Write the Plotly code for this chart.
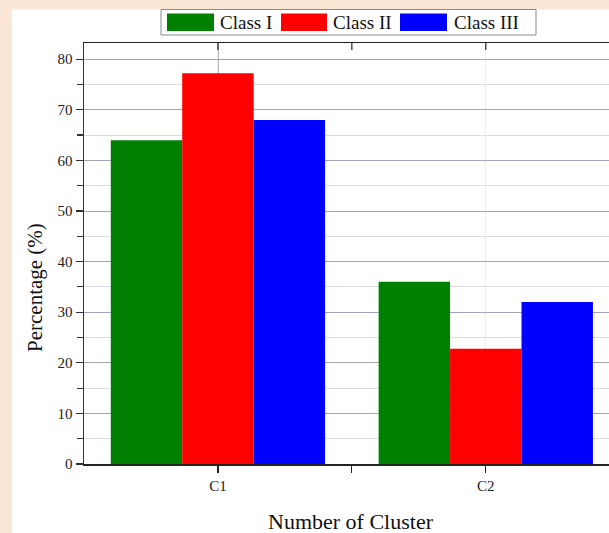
import plotly.graph_objects as go

# ---- data ----
categories = ["C1", "C2"]
series_names = ["Class I", "Class II", "Class III"]
class_i = [64.0, 36.0]
class_ii = [77.2, 22.8]
class_iii = [68.0, 32.0]
series_values = [class_i, class_ii, class_iii]
series_colors = ["#008000", "#ff0000", "#0000ff"]
y_ticks = [0, 10, 20, 30, 40, 50, 60, 70, 80]

# ---- layout geometry (pixels) ----
WIDTH, HEIGHT = 609, 533
L, T, B, R = 84, 43, 69, 0
PW = WIDTH - L - R
PH = HEIGHT - T - B
FONT = "Liberation Serif, Times New Roman, serif"
PEACH = "#fce6d6"


def px(x):
    return (x - L) / PW


def py(y):
    return (T + PH - y) / PH


xpos = list(range(len(categories)))
mid_ticks = [i + 0.5 for i in xpos[:-1]]

fig = go.Figure()
for name, vals, col in zip(series_names, series_values, series_colors):
    fig.add_trace(go.Bar(x=xpos, y=vals, name=name, marker=dict(color=col, line=dict(width=0)),
                         showlegend=False))

shapes = []
# peach border strips
shapes.append(dict(type="rect", xref="paper", yref="paper", x0=px(0), x1=px(12), y0=py(HEIGHT), y1=py(0),
                   fillcolor=PEACH, line=dict(width=0), layer="above"))
shapes.append(dict(type="rect", xref="paper", yref="paper", x0=px(0), x1=px(WIDTH), y0=py(9.5), y1=py(0),
                   fillcolor=PEACH, line=dict(width=0), layer="above"))
# darker vertical grid line at first category
shapes.append(dict(type="line", xref="x", yref="paper", x0=xpos[0], x1=xpos[0], y0=0, y1=1,
                   line=dict(color="#505070", width=1), layer="below"))
# inward-pointing tick marks on the top frame line
for tv in xpos + mid_ticks:
    shapes.append(dict(type="line", xref="x", yref="paper", x0=tv, x1=tv, y0=1, y1=1 - 7 / PH,
                       line=dict(color="#222", width=1.2), layer="above"))

# manual legend
shapes.append(dict(type="rect", xref="paper", yref="paper", x0=px(161), x1=px(536), y0=py(35), y1=py(9.5),
                   fillcolor="white", line=dict(color="#8a8a8a", width=1), layer="above"))
swatch_x = [(167, 214), (281, 327), (400, 447)]
text_x = [218, 331, 452]
annotations = []
for (sx0, sx1), tx, name, col in zip(swatch_x, text_x, series_names, series_colors):
    shapes.append(dict(type="rect", xref="paper", yref="paper", x0=px(sx0), x1=px(sx1), y0=py(31), y1=py(13.5),
                       fillcolor=col, line=dict(width=0), layer="above"))
    annotations.append(dict(xref="paper", yref="paper", x=px(tx), y=py(22.5), text=name, showarrow=False,
                            xanchor="left", yanchor="middle", font=dict(family=FONT, size=19, color="#111")))

# axis titles
annotations.append(dict(xref="paper", yref="paper", x=px(35), y=py(288), text="Percentage (%)", textangle=-90,
                        showarrow=False, xanchor="center", yanchor="middle",
                        font=dict(family=FONT, size=21, color="#111")))
annotations.append(dict(xref="paper", yref="paper", x=px(351), y=py(521), text="Number of Cluster",
                        showarrow=False, xanchor="center", yanchor="middle",
                        font=dict(family=FONT, size=22, color="#111")))

xr = [-0.5, 1.46]
fig.update_layout(
    width=WIDTH, height=HEIGHT,
    margin=dict(l=L, r=R, t=T, b=B, pad=0),
    paper_bgcolor="white", plot_bgcolor="white",
    barmode="group", bargap=0.2, bargroupgap=0,
    showlegend=False, dragmode=False,
    shapes=shapes, annotations=annotations,
    xaxis=dict(range=xr, tickmode="array", tickvals=xpos, ticktext=categories,
               ticks="outside", ticklen=7, tickwidth=1.2, tickcolor="#222",
               minor=dict(tickmode="array", tickvals=mid_ticks, ticks="outside", ticklen=7, tickcolor="#222",
                          showgrid=False),
               showline=True, linecolor="#222", linewidth=1.5, mirror=True,
               showgrid=True, gridcolor="#ececf2", gridwidth=1, zeroline=False,
               tickfont=dict(family=FONT, size=15, color="#222")),
    yaxis=dict(range=[0, 83.2], tickmode="array", tickvals=y_ticks,
               ticks="outside", ticklen=7, tickwidth=1.2, tickcolor="#333",
               minor=dict(dtick=5, ticks="outside", ticklen=6, tickcolor="#333",
                          showgrid=True, gridcolor="#dcdce8", gridwidth=1),
               showline=True, linecolor="#333", linewidth=1.5, mirror=False,
               showgrid=True, gridcolor="#a4a4bc", gridwidth=1, zeroline=False,
               tickfont=dict(family=FONT, size=15, color="#222")),
)

fig.write_html("out.html", config={"displayModeBar": False, "staticPlot": True},
               post_script="document.body.style.margin='0';document.body.style.padding='0';"
                           "document.documentElement.style.overflow='hidden';")
